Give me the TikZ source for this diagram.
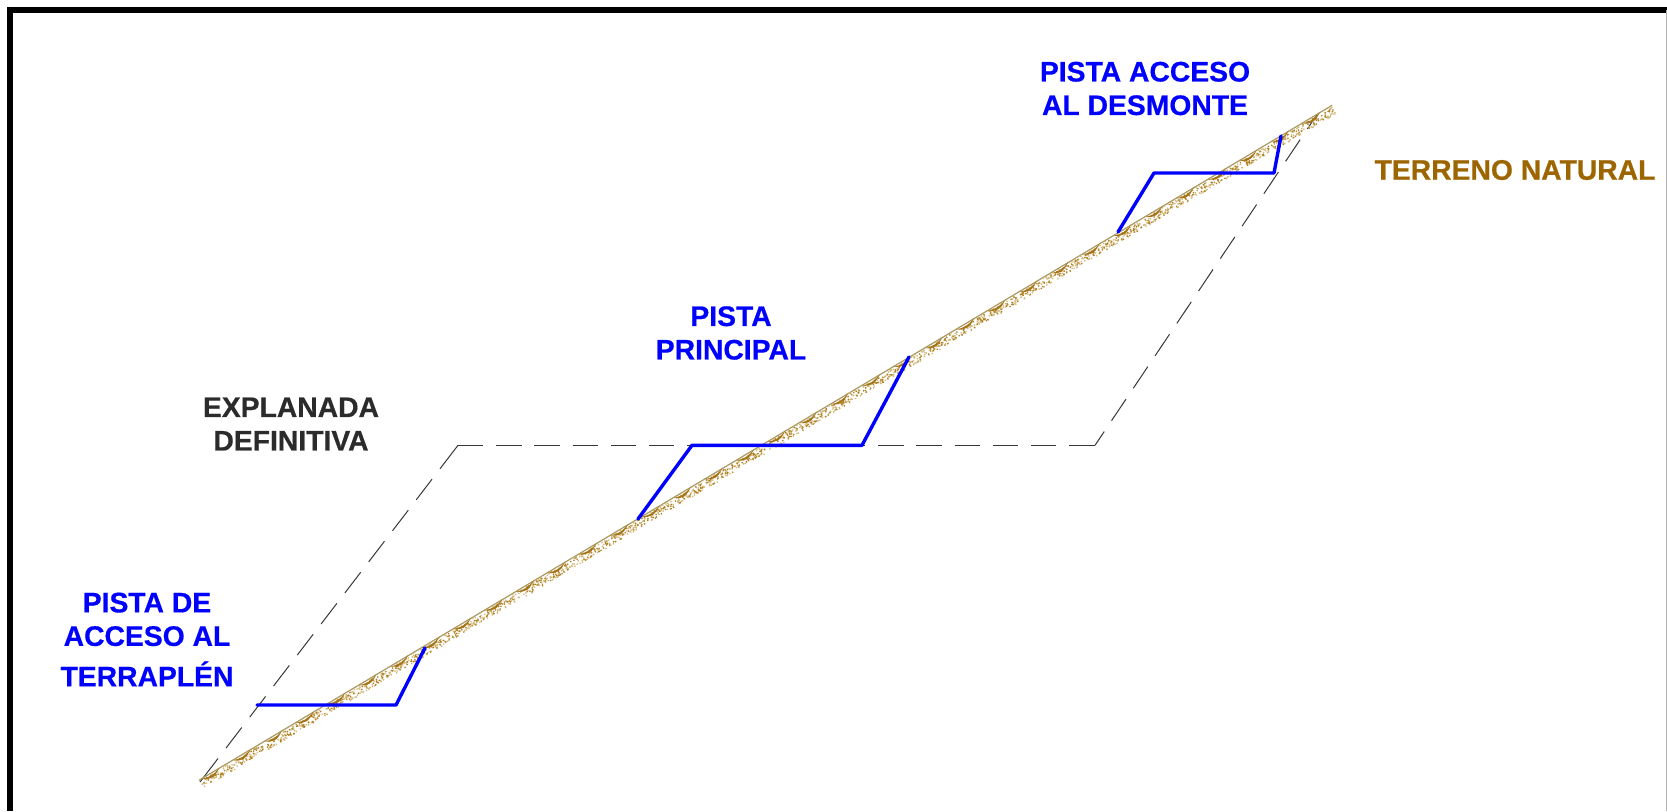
\documentclass[tikz,border=0pt]{standalone}
\usepackage{fontspec}
\setmainfont{Liberation Sans}[BoldFeatures={FakeBold=0.5}]
\definecolor{pistablue}{HTML}{0000FF}
\definecolor{soilbrown}{HTML}{9C6500}
\definecolor{soilmid}{HTML}{B07F20}
\definecolor{soillight}{HTML}{D2B878}
\definecolor{soilline}{HTML}{A89A62}
\definecolor{graytext}{HTML}{2B2B2B}
\tikzset{
  pista/.style={draw=pistablue,line width=3.4pt,line join=round,line cap=round},
  explanada/.style={draw=black!78,line width=1pt},
  frameline/.style={draw=black,line width=5.6pt},
  lbl/.style={align=center,inner sep=0pt,font=\fontsize{28.3}{33.5}\selectfont\bfseries},
}
\begin{document}
\begin{tikzpicture}[x=1pt,y=-1pt]
\useasboundingbox (0,0) rectangle (1667,811);
\fill[white] (0,0) rectangle (1667,811);
% frame
\draw[frameline] (10,811) -- (10,10) -- (1667,10);
\draw[draw=black!30,line width=1pt] (1666.5,10) -- (1666.5,811);
% explanada
\coordinate (E0) at (200,782);
\coordinate (E1) at (458,445.3);
\coordinate (E2) at (1095,445.3);
\coordinate (E3) at (1316.7,115);
\draw[explanada,dash pattern=on 29.6pt off 13.1pt on 26pt off 13.1pt on 26pt off 13.1pt on 26pt off 13.1pt on 26pt off 13.1pt on 26pt off 13.1pt on 26pt off 13.1pt on 26pt off 13.1pt on 26pt off 13.1pt on 26pt off 13.1pt on 40pt off 40pt] (E0) -- (E1);
\draw[explanada,dash pattern=on 25.3pt off 12.9pt] (E1) -- (E2);
\draw[explanada,dash pattern=on 26pt off 13.05pt,dash phase=9.4pt] (E2) -- (E3);
% terreno
\pgfmathsetseed{4217}
\begin{scope}[shift={(200,782)},rotate=30.78]
  \draw[soilline,line width=1.2pt] (0,-2) -- (1319,-2);
  \foreach \k in {0,...,35}{
    \pgfmathsetmacro{\u}{\k*36.6}
    \foreach \d in {1,...,44}{
      \pgfmathsetmacro{\px}{\u+rnd*36}
      \pgfmathsetmacro{\py}{-2+rnd*8.5}
      \fill[soillight] (\px,\py) rectangle ++(1.3,1.3);
    }
    \foreach \d in {1,...,26}{
      \pgfmathsetmacro{\px}{\u+1+rnd*34}
      \pgfmathsetmacro{\py}{-1+rnd*7}
      \fill[soilmid] (\px,\py) rectangle ++(1.3,1.3);
    }
    \fill[soilbrown!90!white] (\u+3,-2) .. controls (\u+10,3.8) and (\u+15,3.8) .. (\u+24,-2.5)
       .. controls (\u+16,0.8) and (\u+10,1) .. cycle;
  }
\end{scope}
% pistas
\coordinate (A1) at (257,705);
\coordinate (A2) at (396,705);
\coordinate (A3) at (425,648);
\draw[pista] (A1) -- (A2) -- (A3);
\coordinate (P1) at (638,519);
\coordinate (P2) at (692,445.3);
\coordinate (P3) at (862,445.3);
\coordinate (P4) at (909,357);
\draw[pista] (P1) -- (P2) -- (P3) -- (P4);
\coordinate (D1) at (1118,232);
\coordinate (D2) at (1154,173);
\coordinate (D3) at (1274,173);
\coordinate (D4) at (1281,136);
\draw[pista] (D1) -- (D2) -- (D3) -- (D4);
% labels
\node[lbl,text=pistablue] (ldesm) at (1145,88.5) {PISTA ACCESO\\AL DESMONTE};
\node[lbl,text=soilbrown] (lterr) at (1515,170) {TERRENO NATURAL};
\node[lbl,text=pistablue] (lprin) at (731,333) {PISTA\\PRINCIPAL};
\node[lbl,text=graytext] (lexpl) at (291,424) {EXPLANADA\\DEFINITIVA};
\node[lbl,text=pistablue] (lacc) at (147,639.5) {PISTA DE\\ACCESO AL\\[7pt]TERRAPLÉN};
\end{tikzpicture}
\end{document}
